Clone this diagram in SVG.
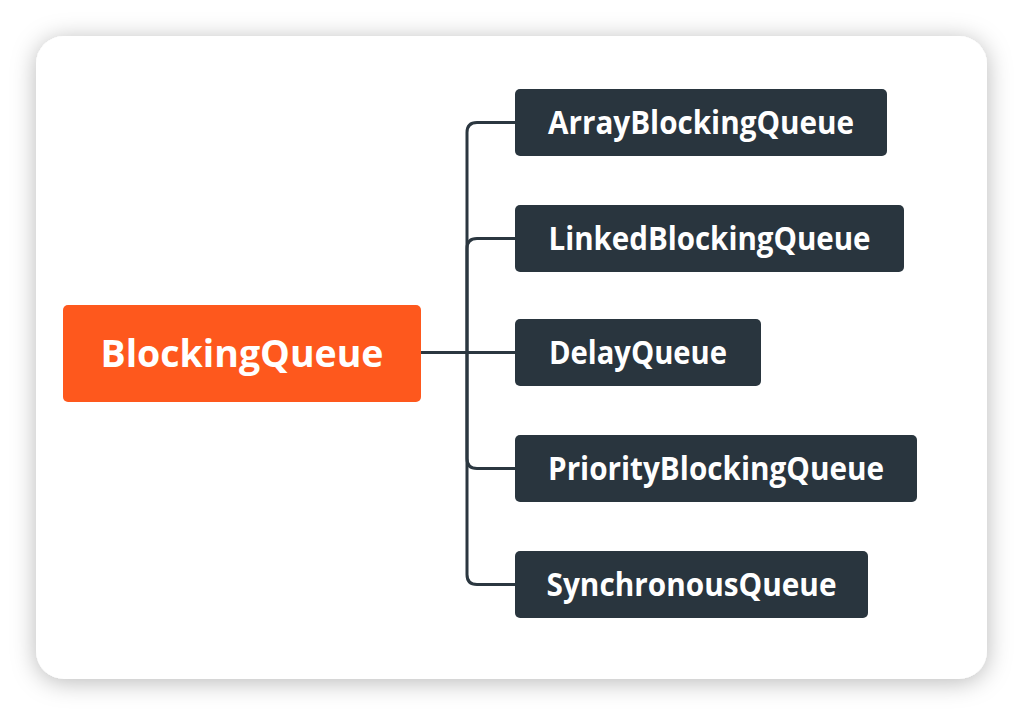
<svg xmlns="http://www.w3.org/2000/svg" width="1024" height="716" viewBox="0 0 1024 716">
<defs>
<filter id="shadow" x="-10%" y="-10%" width="120%" height="120%">
<feDropShadow dx="0" dy="3" stdDeviation="12" flood-color="#000" flood-opacity="0.28"/>
</filter>
<style>
.node-dark{fill:#29353e}
.node-root{fill:#fe581d}
.lbl{font-family:"Open Sans","Noto Sans","Liberation Sans",sans-serif;font-weight:700;fill:#ffffff;text-anchor:middle}
.lbl-s{font-size:32px}
.lbl-r{font-size:38px}
.conn{fill:none;stroke:#2b3740;stroke-width:3;stroke-linejoin:round}
</style>
</defs>
<rect width="1024" height="716" fill="#ffffff"/>
<rect x="36" y="36" width="951" height="643" rx="28" ry="28" fill="#ffffff" filter="url(#shadow)"/>
<g id="connectors">
<path class="conn" d="M421 352.5 H467 V132.5 Q467 122.5 477 122.5 H515"/>
<path class="conn" d="M467 352.5 V248.5 Q467 238.5 477 238.5 H515"/>
<path class="conn" d="M421 352.5 H515"/>
<path class="conn" d="M467 352.5 V458.5 Q467 468.5 477 468.5 H515"/>
<path class="conn" d="M467 352.5 V574.5 Q467 584.5 477 584.5 H515"/>
</g>
<g id="node-root">
<rect class="node-root" x="63" y="305" width="358" height="97" rx="5"/>
<text class="lbl lbl-r" x="242" y="367" textLength="283" lengthAdjust="spacingAndGlyphs">BlockingQueue</text>
</g>
<g id="node-array">
<rect class="node-dark" x="515" y="89" width="372" height="67" rx="5"/>
<text class="lbl lbl-s" x="701" y="133.5" textLength="306" lengthAdjust="spacingAndGlyphs">ArrayBlockingQueue</text>
</g>
<g id="node-linked">
<rect class="node-dark" x="515" y="205" width="389" height="67" rx="5"/>
<text class="lbl lbl-s" x="709.5" y="249.5" textLength="322" lengthAdjust="spacingAndGlyphs">LinkedBlockingQueue</text>
</g>
<g id="node-delay">
<rect class="node-dark" x="515" y="319" width="246" height="67" rx="5"/>
<text class="lbl lbl-s" x="638" y="363.5" textLength="178" lengthAdjust="spacingAndGlyphs">DelayQueue</text>
</g>
<g id="node-priority">
<rect class="node-dark" x="515" y="435" width="402" height="67" rx="5"/>
<text class="lbl lbl-s" x="716" y="479.5" textLength="336" lengthAdjust="spacingAndGlyphs">PriorityBlockingQueue</text>
</g>
<g id="node-sync">
<rect class="node-dark" x="515" y="551" width="353" height="67" rx="5"/>
<text class="lbl lbl-s" x="691.5" y="595.5" textLength="290" lengthAdjust="spacingAndGlyphs">SynchronousQueue</text>
</g>
</svg>
